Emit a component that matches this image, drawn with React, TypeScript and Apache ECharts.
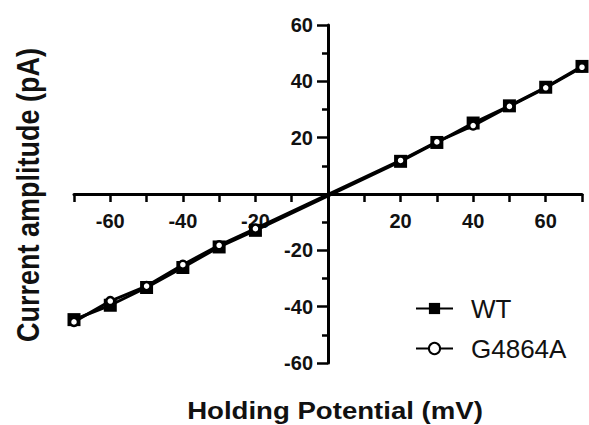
import React, { useEffect, useRef } from "react";
import * as echarts from "echarts";

const voltages = [-70, -60, -50, -40, -30, -20, 20, 30, 40, 50, 60, 70];
const wtValues = [-44.6, -39.5, -33.2, -26.1, -18.8, -12.9, 11.6, 18.3, 25.2, 31.3, 37.9, 45.3];
const g4864aValues = [-45.4, -38.0, -32.7, -25.1, -18.2, -12.3, 11.9, 18.5, 24.3, 31.1, 37.7, 45.0];
const seriesNames = ["WT", "G4864A"];
const xLabelValues = [-60, -40, -20, 20, 40, 60];
const yLabelValues = [-60, -40, -20, 20, 40, 60];
const xTitle = "Holding Potential (mV)";
const yTitle = "Current amplitude (pA)";

const FONT = "'Liberation Sans', Arial, Helvetica, sans-serif";

const W = 589;
const H = 425;
const GRID = { left: 74, right: 7, top: 25, bottom: 62 };

export default function App() {
  const ref = useRef<HTMLDivElement>(null);
  useEffect(() => {
    if (!ref.current) return;
    const chart = echarts.init(ref.current, null, { renderer: "svg" });
    const wtData = voltages.map((v, i) => [v, wtValues[i]]);
    const gData = voltages.map((v, i) => [v, g4864aValues[i]]);
    const gridW = W - GRID.left - GRID.right;
    const gridH = H - GRID.top - GRID.bottom;
    chart.setOption({
      animation: false,
      backgroundColor: "#ffffff",
      grid: { ...GRID, containLabel: false },
      xAxis: {
        type: "value",
        position: "bottom",
        offset: -gridH / 2,
        min: -70,
        max: 70,
        interval: 10,
        axisLine: { onZero: false, lineStyle: { color: "#000", width: 3 } },
        axisTick: { show: true, length: 8, lineStyle: { color: "#000", width: 2.5 } },
        splitLine: { show: false },
        axisLabel: {
          margin: 17,
          fontSize: 20,
          fontWeight: "bold",
          fontFamily: FONT,
          color: "#111",
          formatter: (v: number) => (xLabelValues.includes(v) ? String(v) : ""),
        },
      },
      yAxis: {
        type: "value",
        position: "left",
        offset: -gridW / 2,
        min: -60,
        max: 60,
        interval: 20,
        axisLine: { show: true, onZero: false, lineStyle: { color: "#000", width: 3 } },
        axisTick: { show: true, length: 11, lineStyle: { color: "#000", width: 2.5 } },
        minorTick: { show: true, splitNumber: 2, length: 6, lineStyle: { color: "#000", width: 2.5 } },
        splitLine: { show: false },
        axisLabel: {
          margin: 15,
          fontSize: 20,
          fontWeight: "bold",
          fontFamily: FONT,
          color: "#111",
          formatter: (v: number) => (yLabelValues.includes(v) ? String(v) : ""),
        },
      },
      legend: {
        orient: "vertical",
        left: 410,
        top: 290,
        itemWidth: 37,
        itemHeight: 14,
        itemGap: 13,
        data: seriesNames,
        textStyle: {
          fontSize: 26,
          lineHeight: 27,
          fontFamily: FONT,
          color: "#111",
          padding: [0, 0, 0, 13],
        },
      },
      series: [
        {
          name: seriesNames[0],
          type: "line",
          data: wtData,
          symbol: "rect",
          symbolSize: 13,
          showAllSymbol: true,
          lineStyle: { color: "#000", width: 3 },
          itemStyle: { color: "#000" },
          z: 2,
        },
        {
          name: seriesNames[1],
          type: "line",
          data: gData,
          symbol: "circle",
          symbolSize: 8,
          showAllSymbol: true,
          lineStyle: { color: "#000", width: 3 },
          itemStyle: { color: "#fff", borderColor: "#000", borderWidth: 2.5 },
          z: 3,
        },
      ],
      graphic: [
        {
          type: "text",
          x: 335,
          y: 411,
          scaleX: 1.2,
          style: {
            text: xTitle,
            fontSize: 23,
            fontWeight: "bold",
            fontFamily: FONT,
            fill: "#111",
            align: "center",
            verticalAlign: "middle",
          },
        },
        {
          type: "text",
          x: 28,
          y: 195,
          rotation: Math.PI / 2,
          scaleY: 1.15,
          style: {
            text: yTitle,
            fontSize: 27,
            fontWeight: "bold",
            fontFamily: FONT,
            fill: "#111",
            align: "center",
            verticalAlign: "middle",
          },
        },
      ],
    });
    return () => chart.dispose();
  }, []);
  return <div ref={ref} style={{ width: W, height: H, position: "absolute", left: 0, top: 0 }} />;
}
